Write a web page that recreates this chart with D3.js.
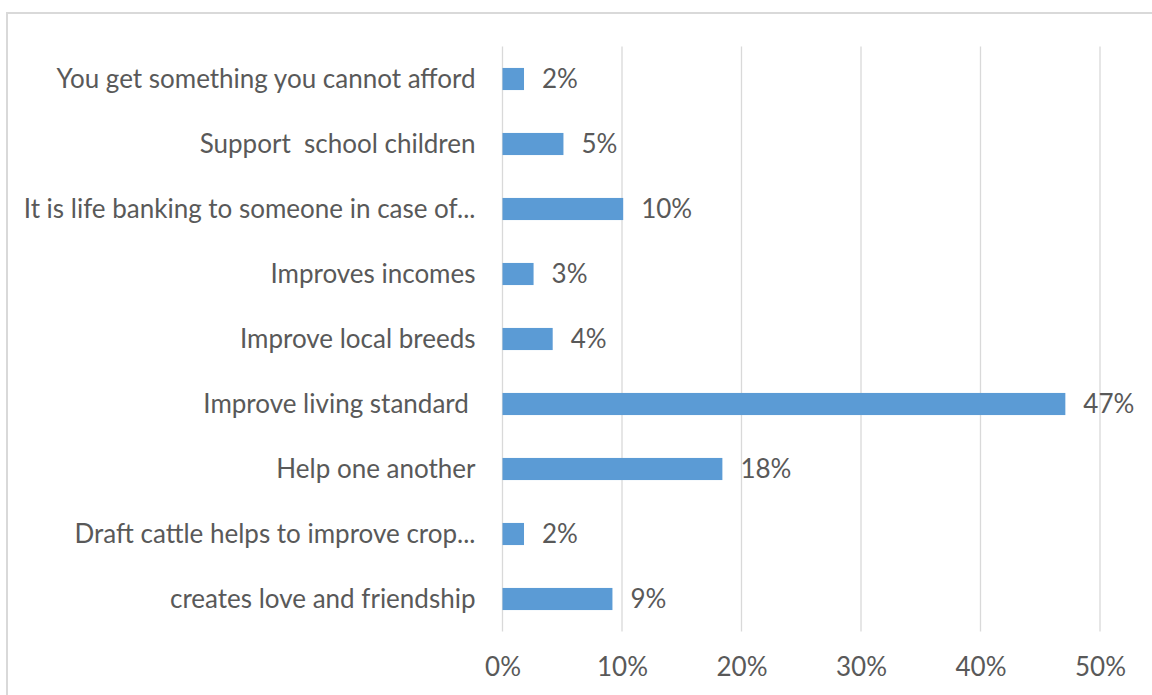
<!DOCTYPE html>
<html>
<head>
<meta charset="utf-8">
<script src="https://cdn.jsdelivr.net/npm/d3@7"></script>
<style>
  html, body { margin: 0; padding: 0; background: #fff; }
  svg text { white-space: pre; }
</style>
</head>
<body>
<svg id="chart" width="1152" height="695"></svg>
<script>
// Reasons given, listed top to bottom as they appear on the chart
const categories = [
  "You get something you cannot afford",
  "Support  school children",
  "It is life banking to someone in case of...",
  "Improves incomes",
  "Improve local breeds",
  "Improve living standard ",
  "Help one another",
  "Draft cattle helps to improve crop...",
  "creates love and friendship"
];
// Share of respondents, in percent
const values = [1.8, 5.1, 10.1, 2.6, 4.2, 47.1, 18.4, 1.8, 9.2];
// Axis ticks, in percent
const tickValues = [0, 10, 20, 30, 40, 50];

const FONT = "Lato, 'Open Sans', sans-serif";
const FONT_SIZE = 26;
const TEXT = "#595959";
const GRID = "#d9d9d9";
const BAR = "#5b9bd5";

const svg = d3.select("#chart");
svg.append("rect").attr("width", 1152).attr("height", 695).attr("fill", "#fff");

// chart area border
svg.append("rect")
  .attr("x", 7).attr("y", 13)
  .attr("width", 1200).attr("height", 750)
  .attr("fill", "none")
  .attr("stroke", GRID)
  .attr("stroke-width", 2);

const plot = { left: 502.5, right: 1100, top: 46.5, bottom: 631.5 };

const x = d3.scaleLinear().domain([0, 50]).range([plot.left, plot.right]);
const y = d3.scaleBand().domain(categories)
  .range([plot.top, plot.bottom])
  .paddingInner(0.66).paddingOuter(0.33);

// vertical gridlines
svg.append("g").selectAll("line").data(tickValues).join("line")
  .attr("x1", d => x(d)).attr("x2", d => x(d))
  .attr("y1", plot.top).attr("y2", plot.bottom)
  .attr("stroke", GRID).attr("stroke-width", 1.3);

// x axis tick labels
const xAxis = d3.axisBottom(x).tickValues(tickValues)
  .tickFormat(d => d + "%").tickSize(0).tickPadding(0);
const gx = svg.append("g").attr("transform", `translate(0,${plot.bottom + 35})`).call(xAxis);
gx.select(".domain").remove();
gx.selectAll("text")
  .attr("font-family", FONT).attr("font-size", FONT_SIZE).attr("fill", TEXT)
  .attr("y", 0).attr("dy", "0.36em");

// category labels
const yAxis = d3.axisLeft(y).tickSize(0).tickPadding(0);
const gy = svg.append("g").attr("transform", `translate(${plot.left - 27},0)`).call(yAxis);
gy.select(".domain").remove();
gy.selectAll("text")
  .attr("font-family", FONT).attr("font-size", FONT_SIZE).attr("fill", TEXT)
  .attr("text-anchor", "end").attr("dy", "0.36em");

// bars
svg.append("g").selectAll("rect").data(values).join("rect")
  .attr("x", x(0))
  .attr("y", (d, i) => y(categories[i]))
  .attr("width", d => x(d) - x(0))
  .attr("height", y.bandwidth())
  .attr("fill", BAR);

// value labels
svg.append("g").selectAll("text").data(values).join("text")
  .attr("x", d => x(d) + 18)
  .attr("y", (d, i) => y(categories[i]) + y.bandwidth() / 2)
  .attr("dy", "0.36em")
  .attr("font-family", FONT).attr("font-size", FONT_SIZE).attr("fill", TEXT)
  .text(d => Math.round(d) + "%");
</script>
</body>
</html>
